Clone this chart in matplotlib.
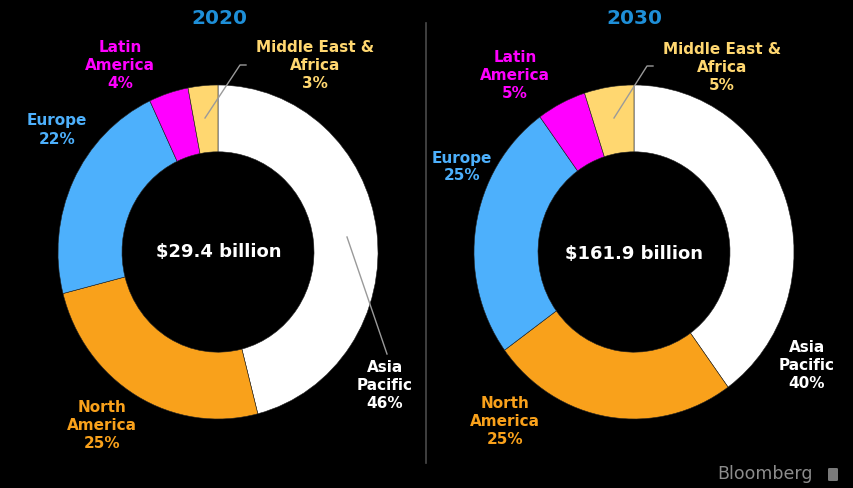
import matplotlib.pyplot as plt
from matplotlib.lines import Line2D
from matplotlib.patches import FancyBboxPatch

# data
years = ['2020', '2030']
totals = ['$29.4 billion', '$161.9 billion']
regions = ['Asia\nPacific', 'North\nAmerica', 'Europe', 'Latin\nAmerica', 'Middle East &\nAfrica']
share_2020 = [46, 25, 22, 4, 3]
share_2030 = [40, 25, 25, 5, 5]

colors = ['#FFFFFF', '#F9A11B', '#4DB0FC', '#FF00FF', '#FFD770']
title_blue = '#1E8FD8'

W, H = 854, 488
plt.rcParams['font.family'] = ['DejaVu Sans']

fig = plt.figure(figsize=(W / 100, H / 100), dpi=100, facecolor='black')


def fx(px):
    return px / W


def fy(py):
    return 1 - py / H


# donut geometry in pixels (centre x, centre y, rx, ry)
donuts = [(218, 252, 160, 167), (634, 252, 160, 167)]
# label positions in pixels, same order as regions
label_pos = [
    [(385, 386), (102, 426), (57, 130), (120, 65), (315, 65)],
    [(807, 366), (505, 422), (462, 167), (515, 75), (722, 67)],
]
total_pos = [(219, 252), (634, 254)]
title_pos = [(219, 18), (634, 18)]
# leader lines (pixels)
leaders = [
    [[(205, 118), (240, 65), (246, 65)], [(347, 237), (387, 354)]],
    [[(614, 118), (647, 66), (653, 66)]],
]

for k, shares in enumerate([share_2020, share_2030]):
    cx, cy, rx, ry = donuts[k]
    ax = fig.add_axes([fx(cx - rx), fy(cy + ry), 2 * rx / W, 2 * ry / H])
    ax.set_facecolor('black')
    ax.pie(shares, colors=colors, startangle=90, counterclock=False, radius=1,
           wedgeprops=dict(width=0.4, edgecolor='#222222', linewidth=0.4))
    ax.set_aspect('auto')
    ax.set_xlim(-1, 1)
    ax.set_ylim(-1, 1)
    ax.axis('off')

    for i, reg in enumerate(regions):
        px, py = label_pos[k][i]
        fig.text(fx(px), fy(py), f'{reg}\n{shares[i]}%', color=colors[i],
                 ha='center', va='center', multialignment='center',
                 fontsize=11, fontweight='bold', linespacing=1.25)

    fig.text(fx(total_pos[k][0]), fy(total_pos[k][1]), totals[k], color='white',
             ha='center', va='center', fontsize=13, fontweight='bold')
    fig.text(fx(title_pos[k][0]), fy(title_pos[k][1]), years[k], color=title_blue,
             ha='center', va='center', fontsize=14.5, fontweight='bold')

    for pts in leaders[k]:
        fig.add_artist(Line2D([fx(p[0]) for p in pts], [fy(p[1]) for p in pts],
                              color='#9A9A9A', linewidth=1.0))

# divider between the two donuts
fig.add_artist(Line2D([fx(426), fx(426)], [fy(23), fy(463)], color='#4A4A4A', linewidth=1.2))

# source
fig.text(fx(813), fy(474), 'Bloomberg', color='#8C8C8C', ha='right', va='center', fontsize=12.5)
fig.add_artist(FancyBboxPatch((fx(828), fy(481)), 10 / W, 13 / H,
                              boxstyle='round,pad=0,rounding_size=0.002',
                              transform=fig.transFigure, facecolor='#7A7A7A', edgecolor='none'))

fig.savefig('out.png', dpi=100, facecolor='black')
